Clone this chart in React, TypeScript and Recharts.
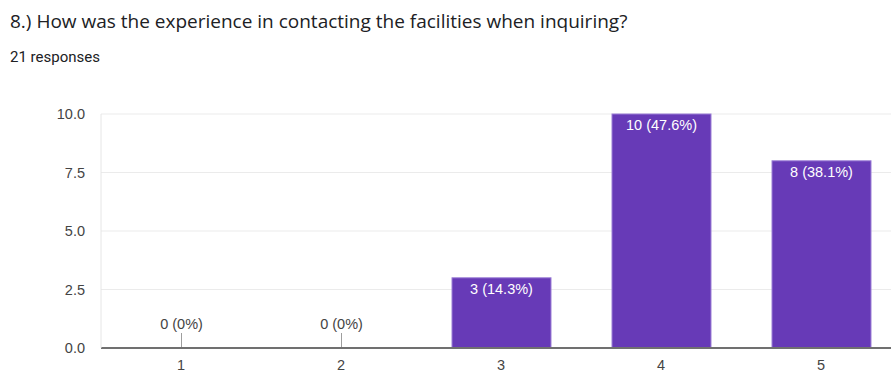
import React from 'react';
import { BarChart, Bar, XAxis, YAxis, CartesianGrid } from 'recharts';

const categories = ['1', '2', '3', '4', '5'];
const counts = [0, 0, 3, 10, 8];
const totalResponses = 21;
const yTicks = [0, 2.5, 5, 7.5, 10];

const data = categories.map((name, i) => ({ name, value: counts[i] }));

const pct = (v: number) => (v === 0 ? '0%' : ((v / totalResponses) * 100).toFixed(1) + '%');

const labelFont = '"Liberation Sans", Arial, sans-serif';

// draws the bar and its label together so zero bars still get a label
const BarWithLabel = (props: any) => {
  const { x, y, width, height, payload } = props;
  const value = payload?.value ?? 0;
  const cx = x + width / 2;
  const text = `${value} (${pct(value)})`;
  if (value === 0) {
    const base = y + height;
    return (
      <g>
        <line x1={cx} x2={cx} y1={base - 15} y2={base} stroke="#9e9e9e" strokeWidth={1} />
        <text x={cx} y={base - 23} textAnchor="middle" dominantBaseline="middle" fill="#444" fontSize={14.5} fontFamily={labelFont}>
          {text}
        </text>
      </g>
    );
  }
  return (
    <g>
      <rect x={x} y={y} width={width} height={height} fill="#673ab7" stroke="#9c7fd6" strokeWidth={1} />
      <text x={cx} y={y + 12} textAnchor="middle" dominantBaseline="middle" fill="#fff" fontSize={14.5} fontFamily={labelFont}>
        {text}
      </text>
    </g>
  );
};

const App: React.FC = () => {
  return (
    <div
      style={{
        position: 'absolute',
        left: 0,
        top: 0,
        width: 891,
        height: 372,
        overflow: 'hidden',
        background: '#fff',
        fontFamily: 'Roboto, Arial, sans-serif',
      }}
    >
      <div style={{ position: 'absolute', left: 10, top: 8, fontSize: 19, fontFamily: '"Open Sans", sans-serif', color: '#202124', whiteSpace: 'nowrap' }}>
        8.) How was the experience in contacting the facilities when inquiring?
      </div>
      <div style={{ position: 'absolute', left: 10, top: 48, fontSize: 15, color: '#202124' }}>21 responses</div>
      <div style={{ position: 'absolute', left: 0, top: 100 }}>
        <BarChart width={920} height={272} data={data} margin={{ top: 14, right: 19, bottom: 0, left: 0 }} barSize={99}>
          <CartesianGrid vertical={false} stroke="#ebebeb" />
          <XAxis
            dataKey="name"
            height={24}
            axisLine={{ stroke: '#707070', strokeWidth: 2 }}
            tickLine={false}
            tickSize={0}
            tickMargin={12}
            tick={{ fill: '#444', fontSize: 14.5, fontFamily: labelFont }}
          />
          <YAxis
            width={101}
            domain={[0, 10]}
            ticks={yTicks}
            tickFormatter={(v: number) => v.toFixed(1)}
            axisLine={{ stroke: '#e6e6e6' }}
            tickLine={false}
            tickSize={0}
            tickMargin={16}
            tick={{ fill: '#444', fontSize: 14.5, fontFamily: labelFont }}
          />
          <Bar dataKey="value" fill="#673ab7" isAnimationActive={false} shape={BarWithLabel} />
        </BarChart>
      </div>
    </div>
  );
};

export default App;
